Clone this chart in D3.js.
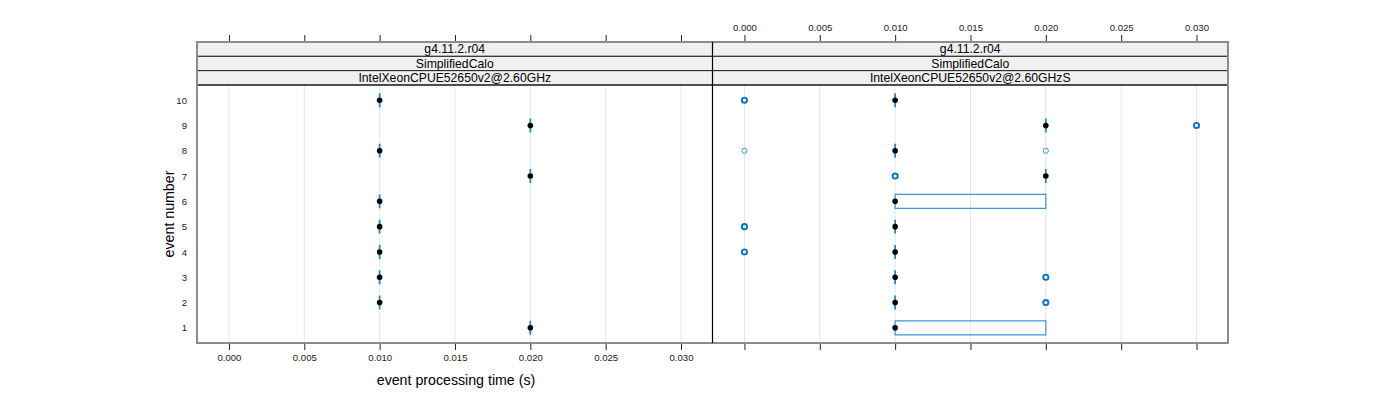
<!DOCTYPE html>
<html>
<head>
<meta charset="utf-8">
<script src="https://cdn.jsdelivr.net/npm/d3@7/dist/d3.min.js"></script>
<style>
  body { margin: 0; background: #fff; }
  svg { font-family: "Liberation Sans", Arial, sans-serif; }
</style>
</head>
<body>
<div id="chart"></div>
<script>
// Data (event 1..10)
const events = [1, 2, 3, 4, 5, 6, 7, 8, 9, 10];
const stripVersion = "g4.11.2.r04";
const stripTest = "SimplifiedCalo";
const panelNames = ["IntelXeonCPUE52650v2@2.60GHz", "IntelXeonCPUE52650v2@2.60GHzS"];
const xTicks = [0.000, 0.005, 0.010, 0.015, 0.020, 0.025, 0.030];

// panel 1
const medianA = [0.020, 0.010, 0.010, 0.010, 0.010, 0.010, 0.020, 0.010, 0.020, 0.010];
const lowerA  = [0.020, 0.010, 0.010, 0.010, 0.010, 0.010, 0.020, 0.010, 0.020, 0.010];
const upperA  = [0.020, 0.010, 0.010, 0.010, 0.010, 0.010, 0.020, 0.010, 0.020, 0.010];
const outlierA = [];

// panel 2
const medianB = [0.010, 0.010, 0.010, 0.010, 0.010, 0.010, 0.020, 0.010, 0.020, 0.010];
const lowerB  = [0.010, 0.010, 0.010, 0.010, 0.010, 0.010, 0.020, 0.010, 0.020, 0.010];
const upperB  = [0.020, 0.010, 0.010, 0.010, 0.010, 0.020, 0.020, 0.010, 0.020, 0.010];
// [event, value, number of overlapping points]
const outlierB = [
  [10, 0.000, 3], [9, 0.030, 3], [8, 0.000, 1], [8, 0.020, 1], [7, 0.010, 3],
  [5, 0.000, 3], [4, 0.000, 3], [3, 0.020, 3], [2, 0.020, 3]
];

const panels = [
  { name: panelNames[0], median: medianA, lower: lowerA, upper: upperA, outliers: outlierA },
  { name: panelNames[1], median: medianB, lower: lowerB, upper: upperB, outliers: outlierB }
];

const width = 1400, height = 400;
const panelW = 515.5, left = 197, stripTop = 42, stripH = 14.33, plotTop = 85, plotBottom = 343;
const boxCol = "#3d97d3", outCol = "#0a74bb", frameCol = "#8c8c8c";
const tickFont = 9.6;

const svg = d3.select("#chart").append("svg")
  .attr("width", width).attr("height", height);

const y = d3.scaleLinear().domain([0.4, 10.6]).range([plotBottom, plotTop]);

panels.forEach((p, i) => {
  const x0 = left + i * panelW;
  const x = d3.scaleLinear().domain([-0.00212, 0.03209]).range([x0, x0 + panelW]);
  const g = svg.append("g");

  // grid
  g.selectAll("line.grid").data(xTicks).join("line")
    .attr("x1", d => x(d)).attr("x2", d => x(d))
    .attr("y1", plotTop).attr("y2", plotBottom)
    .attr("stroke", "#e6e6e6").attr("stroke-width", 1);

  // strips
  [stripVersion, stripTest, p.name].forEach((t, k) => {
    const sy = stripTop + k * stripH;
    g.append("rect").attr("x", x0).attr("y", sy).attr("width", panelW).attr("height", stripH)
      .attr("fill", "#f0f0f0").attr("stroke", "#222").attr("stroke-width", 1);
    g.append("text").attr("x", x0 + panelW / 2).attr("y", sy + stripH / 2 + 4.3)
      .attr("text-anchor", "middle").attr("font-size", 12.2).attr("fill", "#000").text(t);
  });

  // boxes (drawn as paths so collapsed boxes still show as a line)
  const rows = events.map((e, k) => ({ e, med: p.median[k], lo: p.lower[k], hi: p.upper[k] }));
  const bh = y(0) - y(0.55);
  g.selectAll("path.box").data(rows).join("path")
    .attr("d", d => {
      const x1 = x(d.lo), x2 = x(d.hi), y1 = y(d.e) - bh / 2, y2 = y(d.e) + bh / 2;
      return `M${x1},${y1}L${x2},${y1}L${x2},${y2}L${x1},${y2}Z`;
    })
    .attr("fill", "none")
    .attr("stroke", d => d.hi > d.lo ? boxCol : "#2a86c8")
    .attr("stroke-width", d => d.hi > d.lo ? 1.2 : 1.8);

  // outliers
  g.selectAll("circle.out").data(p.outliers).join("circle")
    .attr("cx", d => x(d[1])).attr("cy", d => y(d[0])).attr("r", 2.6)
    .attr("fill", "none").attr("stroke", d => d[2] > 1 ? outCol : "#3d97d3")
    .attr("stroke-width", d => d[2] > 1 ? 1.9 : 1);

  // medians
  g.selectAll("circle.med").data(rows).join("circle")
    .attr("cx", d => x(d.med)).attr("cy", d => y(d.e)).attr("r", 2.8)
    .attr("fill", "#000");

  // x axis: bottom labels on first panel, top labels on second
  const labelled = i === 0 ? "bottom" : "top";
  const bottom = d3.axisBottom(x).tickValues(xTicks).tickSize(6).tickPadding(4)
    .tickFormat(labelled === "bottom" ? d3.format(".3f") : "");
  const top = d3.axisTop(x).tickValues(xTicks).tickSize(6).tickPadding(4)
    .tickFormat(labelled === "top" ? d3.format(".3f") : "");
  [g.append("g").attr("transform", `translate(0,${plotBottom + 1})`).call(bottom),
   g.append("g").attr("transform", `translate(0,${stripTop - 1})`).call(top)]
    .forEach(a => {
      a.select(".domain").remove();
      a.selectAll("line").attr("stroke", "#222");
      a.selectAll("text").attr("font-size", tickFont).attr("fill", "#222")
        .attr("font-family", "'Liberation Sans', Arial, sans-serif");
    });

  // panel frame
  g.append("rect").attr("x", x0).attr("y", plotTop).attr("width", panelW).attr("height", plotBottom - plotTop)
    .attr("fill", "none").attr("stroke", "#111").attr("stroke-width", 1);
});

// outer frame
svg.append("rect").attr("x", left).attr("y", stripTop).attr("width", panelW * 2)
  .attr("height", plotBottom - stripTop).attr("fill", "none")
  .attr("stroke", frameCol).attr("stroke-width", 2);
svg.append("line").attr("x1", left + panelW).attr("x2", left + panelW)
  .attr("y1", stripTop).attr("y2", plotBottom).attr("stroke", "#000").attr("stroke-width", 1.2);

// y axis
const ya = svg.append("g").attr("transform", `translate(${left - 1},0)`)
  .call(d3.axisLeft(y).tickValues(events).tickSize(0).tickPadding(9));
ya.select(".domain").remove();
ya.selectAll("text").attr("font-size", tickFont).attr("fill", "#222")
  .attr("font-family", "'Liberation Sans', Arial, sans-serif");

// titles
svg.append("text").attr("x", 456).attr("y", 385).attr("text-anchor", "middle")
  .attr("font-size", 14.2).attr("fill", "#000").text("event processing time (s)");
svg.append("text").attr("transform", `translate(174,${(plotTop + plotBottom) / 2}) rotate(-90)`)
  .attr("text-anchor", "middle").attr("font-size", 14.2).attr("fill", "#000").text("event number");
</script>
</body>
</html>
